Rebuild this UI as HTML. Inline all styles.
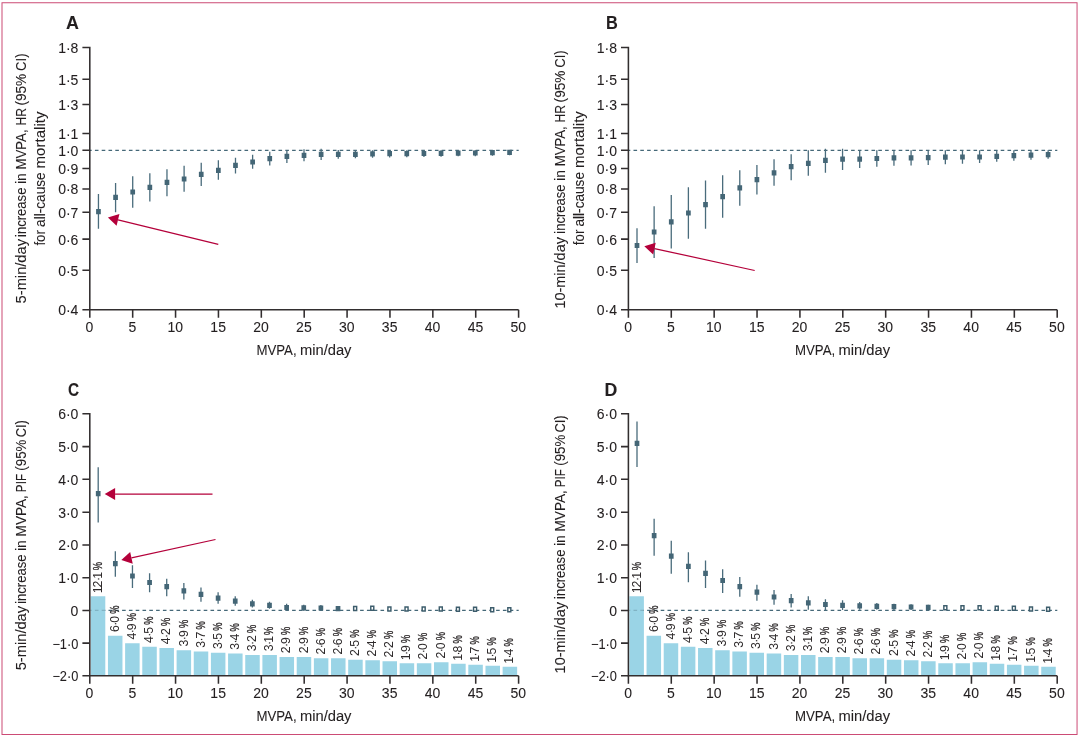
<!DOCTYPE html>
<html lang="en"><head><meta charset="utf-8"><title>Figure</title>
<style>
html,body{margin:0;padding:0;background:#fff;}
svg{display:block;}
text{font-family:"Liberation Sans",sans-serif;fill:#231f20;stroke:#231f20;stroke-width:0.08px;}
.bl text{fill:#2e2a2b;stroke:none;}
.bl text.p{stroke:#2e2a2b;stroke-width:0.3px;}
</style></head><body>
<svg width="1080" height="738" viewBox="0 0 1080 738" font-size="14.0px">
<rect x="2" y="2.75" width="1075.05" height="731.75" fill="none" stroke="#cc4b75" stroke-width="1"/>
<path d="M89.8 150.35H518.7" stroke="#456878" stroke-width="1.3" stroke-dasharray="3.6 3.2" stroke-dashoffset="1.7" fill="none"/>
<path d="M82.4 47.5H89.8V309.75H518.6" fill="none" stroke="#322e2f" stroke-width="1.55" stroke-linejoin="miter"/>
<path d="M82.4 79.3H89.8M82.4 104.4H89.8M82.4 133.5H89.8M82.4 150.3H89.8M82.4 168.4H89.8M82.4 188.9H89.8M82.4 212.3H89.8M82.4 239.1H89.8M82.4 270.3H89.8M82.4 309.75H89.8M89.8 309.75V317.65M132.68 309.75V317.65M175.56 309.75V317.65M218.44 309.75V317.65M261.32 309.75V317.65M304.2 309.75V317.65M347.08 309.75V317.65M389.96 309.75V317.65M432.84 309.75V317.65M475.72 309.75V317.65M518.6 309.75V317.65" fill="none" stroke="#322e2f" stroke-width="1.55"/>
<text x="78.4" y="53" text-anchor="end">1·8</text>
<text x="78.4" y="84.8" text-anchor="end">1·5</text>
<text x="78.4" y="109.9" text-anchor="end">1·3</text>
<text x="78.4" y="139" text-anchor="end">1·1</text>
<text x="78.4" y="155.8" text-anchor="end">1·0</text>
<text x="78.4" y="173.9" text-anchor="end">0·9</text>
<text x="78.4" y="194.4" text-anchor="end">0·8</text>
<text x="78.4" y="217.8" text-anchor="end">0·7</text>
<text x="78.4" y="244.6" text-anchor="end">0·6</text>
<text x="78.4" y="275.8" text-anchor="end">0·5</text>
<text x="78.4" y="315.25" text-anchor="end">0·4</text>
<text x="89.5" y="332.15" text-anchor="middle">0</text>
<text x="132.38" y="332.15" text-anchor="middle">5</text>
<text x="175.26" y="332.15" text-anchor="middle">10</text>
<text x="218.14" y="332.15" text-anchor="middle">15</text>
<text x="261.02" y="332.15" text-anchor="middle">20</text>
<text x="303.9" y="332.15" text-anchor="middle">25</text>
<text x="346.78" y="332.15" text-anchor="middle">30</text>
<text x="389.66" y="332.15" text-anchor="middle">35</text>
<text x="432.54" y="332.15" text-anchor="middle">40</text>
<text x="475.42" y="332.15" text-anchor="middle">45</text>
<text x="518.3" y="332.15" text-anchor="middle">50</text>
<text x="256.4" y="355.05" textLength="40.2" lengthAdjust="spacingAndGlyphs">MVPA,</text>
<text x="299.9" y="355.05" textLength="51.6" lengthAdjust="spacingAndGlyphs">min/day</text>
<path d="M90.8 596.3h14.5V675.8h-14.5zM107.96 635.8h14.5V675.8h-14.5zM125.12 643.3h14.5V675.8h-14.5zM142.28 646.8h14.5V675.8h-14.5zM159.44 648h14.5V675.8h-14.5zM176.6 650.2h14.5V675.8h-14.5zM193.76 651.5h14.5V675.8h-14.5zM210.92 652.8h14.5V675.8h-14.5zM228.08 653.5h14.5V675.8h-14.5zM245.24 655h14.5V675.8h-14.5zM262.4 655h14.5V675.8h-14.5zM279.56 657h14.5V675.8h-14.5zM296.72 657h14.5V675.8h-14.5zM313.88 658.3h14.5V675.8h-14.5zM331.04 658.3h14.5V675.8h-14.5zM348.2 659.8h14.5V675.8h-14.5zM365.36 660.3h14.5V675.8h-14.5zM382.52 661.2h14.5V675.8h-14.5zM399.68 663.2h14.5V675.8h-14.5zM416.84 663.2h14.5V675.8h-14.5zM434 662.3h14.5V675.8h-14.5zM451.16 663.8h14.5V675.8h-14.5zM468.32 664.7h14.5V675.8h-14.5zM485.48 665.8h14.5V675.8h-14.5zM502.64 666.7h14.5V675.8h-14.5z" fill="#9ad4e6"/>
<path d="M89.8 610.4H105" stroke="#456878" stroke-opacity="0.3" stroke-width="1.3" stroke-dasharray="3.6 3.2" stroke-dashoffset="1.7" fill="none"/>
<path d="M105 610.4H518.7" stroke="#456878" stroke-width="1.3" stroke-dasharray="3.6 3.2" stroke-dashoffset="3.3" fill="none"/>
<path d="M82.4 413.7H89.8V675.8H518.6" fill="none" stroke="#322e2f" stroke-width="1.55" stroke-linejoin="miter"/>
<path d="M82.4 446.6H89.8M82.4 479.3H89.8M82.4 512.2H89.8M82.4 544.9H89.8M82.4 577.7H89.8M82.4 610.4H89.8M82.4 643.1H89.8M82.4 675.8H89.8M89.8 675.8V683.7M132.68 675.8V683.7M175.56 675.8V683.7M218.44 675.8V683.7M261.32 675.8V683.7M304.2 675.8V683.7M347.08 675.8V683.7M389.96 675.8V683.7M432.84 675.8V683.7M475.72 675.8V683.7M518.6 675.8V683.7" fill="none" stroke="#322e2f" stroke-width="1.55"/>
<text x="78.4" y="419.2" text-anchor="end">6·0</text>
<text x="78.4" y="452.1" text-anchor="end">5·0</text>
<text x="78.4" y="484.8" text-anchor="end">4·0</text>
<text x="78.4" y="517.7" text-anchor="end">3·0</text>
<text x="78.4" y="550.4" text-anchor="end">2·0</text>
<text x="78.4" y="583.2" text-anchor="end">1·0</text>
<text x="78.4" y="615.9" text-anchor="end">0</text>
<text x="78.4" y="648.6" text-anchor="end" textLength="26" lengthAdjust="spacingAndGlyphs">−1·0</text>
<text x="78.4" y="681.3" text-anchor="end" textLength="26" lengthAdjust="spacingAndGlyphs">−2·0</text>
<text x="89.5" y="698.2" text-anchor="middle">0</text>
<text x="132.38" y="698.2" text-anchor="middle">5</text>
<text x="175.26" y="698.2" text-anchor="middle">10</text>
<text x="218.14" y="698.2" text-anchor="middle">15</text>
<text x="261.02" y="698.2" text-anchor="middle">20</text>
<text x="303.9" y="698.2" text-anchor="middle">25</text>
<text x="346.78" y="698.2" text-anchor="middle">30</text>
<text x="389.66" y="698.2" text-anchor="middle">35</text>
<text x="432.54" y="698.2" text-anchor="middle">40</text>
<text x="475.42" y="698.2" text-anchor="middle">45</text>
<text x="518.3" y="698.2" text-anchor="middle">50</text>
<text x="256.4" y="721.1" textLength="40.2" lengthAdjust="spacingAndGlyphs">MVPA,</text>
<text x="299.9" y="721.1" textLength="51.6" lengthAdjust="spacingAndGlyphs">min/day</text>
<g class="bl" font-size="12.3px">
<g transform="translate(101.95 592.1) rotate(-90)"><text x="-1.25 4.7 11.05 13.35">12·1</text><text x="21.8" textLength="8.3" lengthAdjust="spacingAndGlyphs" class="p">%</text></g>
<g transform="translate(119.08 631.6) rotate(-90)"><text x="-0.5 5.85 8.9">6·0</text><text x="17.9" textLength="8.3" lengthAdjust="spacingAndGlyphs" class="p">%</text></g>
<g transform="translate(136.21 639.1) rotate(-90)"><text x="-0.5 5.85 8.9">4·9</text><text x="17.9" textLength="8.3" lengthAdjust="spacingAndGlyphs" class="p">%</text></g>
<g transform="translate(153.34 642.6) rotate(-90)"><text x="-0.5 5.85 8.9">4·5</text><text x="17.9" textLength="8.3" lengthAdjust="spacingAndGlyphs" class="p">%</text></g>
<g transform="translate(170.47 643.8) rotate(-90)"><text x="-0.5 5.85 8.9">4·2</text><text x="17.9" textLength="8.3" lengthAdjust="spacingAndGlyphs" class="p">%</text></g>
<g transform="translate(187.6 646) rotate(-90)"><text x="-0.5 5.85 8.9">3·9</text><text x="17.9" textLength="8.3" lengthAdjust="spacingAndGlyphs" class="p">%</text></g>
<g transform="translate(204.73 647.3) rotate(-90)"><text x="-0.5 5.85 8.9">3·7</text><text x="17.9" textLength="8.3" lengthAdjust="spacingAndGlyphs" class="p">%</text></g>
<g transform="translate(221.86 648.6) rotate(-90)"><text x="-0.5 5.85 8.9">3·5</text><text x="17.9" textLength="8.3" lengthAdjust="spacingAndGlyphs" class="p">%</text></g>
<g transform="translate(238.99 649.3) rotate(-90)"><text x="-0.5 5.85 8.9">3·4</text><text x="17.9" textLength="8.3" lengthAdjust="spacingAndGlyphs" class="p">%</text></g>
<g transform="translate(256.12 650.8) rotate(-90)"><text x="-0.5 5.85 8.9">3·2</text><text x="17.9" textLength="8.3" lengthAdjust="spacingAndGlyphs" class="p">%</text></g>
<g transform="translate(273.25 650.8) rotate(-90)"><text x="-0.5 5.85 8.15">3·1</text><text x="15.7" textLength="8.3" lengthAdjust="spacingAndGlyphs" class="p">%</text></g>
<g transform="translate(290.38 652.8) rotate(-90)"><text x="-0.5 5.85 8.9">2·9</text><text x="17.9" textLength="8.3" lengthAdjust="spacingAndGlyphs" class="p">%</text></g>
<g transform="translate(307.51 652.8) rotate(-90)"><text x="-0.5 5.85 8.9">2·9</text><text x="17.9" textLength="8.3" lengthAdjust="spacingAndGlyphs" class="p">%</text></g>
<g transform="translate(324.64 654.1) rotate(-90)"><text x="-0.5 5.85 8.9">2·6</text><text x="17.9" textLength="8.3" lengthAdjust="spacingAndGlyphs" class="p">%</text></g>
<g transform="translate(341.77 654.1) rotate(-90)"><text x="-0.5 5.85 8.9">2·6</text><text x="17.9" textLength="8.3" lengthAdjust="spacingAndGlyphs" class="p">%</text></g>
<g transform="translate(358.9 655.6) rotate(-90)"><text x="-0.5 5.85 8.9">2·5</text><text x="17.9" textLength="8.3" lengthAdjust="spacingAndGlyphs" class="p">%</text></g>
<g transform="translate(376.03 656.1) rotate(-90)"><text x="-0.5 5.85 8.9">2·4</text><text x="17.9" textLength="8.3" lengthAdjust="spacingAndGlyphs" class="p">%</text></g>
<g transform="translate(393.16 657) rotate(-90)"><text x="-0.5 5.85 8.9">2·2</text><text x="17.9" textLength="8.3" lengthAdjust="spacingAndGlyphs" class="p">%</text></g>
<g transform="translate(410.29 659) rotate(-90)"><text x="-1.25 4.05 7.1">1·9</text><text x="16.1" textLength="8.3" lengthAdjust="spacingAndGlyphs" class="p">%</text></g>
<g transform="translate(427.42 659) rotate(-90)"><text x="-0.5 5.85 8.9">2·0</text><text x="17.9" textLength="8.3" lengthAdjust="spacingAndGlyphs" class="p">%</text></g>
<g transform="translate(444.55 658.1) rotate(-90)"><text x="-0.5 5.85 8.9">2·0</text><text x="17.9" textLength="8.3" lengthAdjust="spacingAndGlyphs" class="p">%</text></g>
<g transform="translate(461.68 659.6) rotate(-90)"><text x="-1.25 4.05 7.1">1·8</text><text x="16.1" textLength="8.3" lengthAdjust="spacingAndGlyphs" class="p">%</text></g>
<g transform="translate(478.81 660.5) rotate(-90)"><text x="-1.25 4.05 7.1">1·7</text><text x="16.1" textLength="8.3" lengthAdjust="spacingAndGlyphs" class="p">%</text></g>
<g transform="translate(495.94 661.6) rotate(-90)"><text x="-1.25 4.05 7.1">1·5</text><text x="16.1" textLength="8.3" lengthAdjust="spacingAndGlyphs" class="p">%</text></g>
<g transform="translate(513.07 662.5) rotate(-90)"><text x="-1.25 4.05 7.1">1·4</text><text x="16.1" textLength="8.3" lengthAdjust="spacingAndGlyphs" class="p">%</text></g>
</g>
<path d="M628.4 150.35H1057.3" stroke="#456878" stroke-width="1.3" stroke-dasharray="3.6 3.2" stroke-dashoffset="1.7" fill="none"/>
<path d="M621 47.5H628.4V309.75H1057.2" fill="none" stroke="#322e2f" stroke-width="1.55" stroke-linejoin="miter"/>
<path d="M621 79.3H628.4M621 104.4H628.4M621 133.5H628.4M621 150.3H628.4M621 168.4H628.4M621 188.9H628.4M621 212.3H628.4M621 239.1H628.4M621 270.3H628.4M621 309.75H628.4M628.4 309.75V317.65M671.28 309.75V317.65M714.16 309.75V317.65M757.04 309.75V317.65M799.92 309.75V317.65M842.8 309.75V317.65M885.68 309.75V317.65M928.56 309.75V317.65M971.44 309.75V317.65M1014.32 309.75V317.65M1057.2 309.75V317.65" fill="none" stroke="#322e2f" stroke-width="1.55"/>
<text x="617" y="53" text-anchor="end">1·8</text>
<text x="617" y="84.8" text-anchor="end">1·5</text>
<text x="617" y="109.9" text-anchor="end">1·3</text>
<text x="617" y="139" text-anchor="end">1·1</text>
<text x="617" y="155.8" text-anchor="end">1·0</text>
<text x="617" y="173.9" text-anchor="end">0·9</text>
<text x="617" y="194.4" text-anchor="end">0·8</text>
<text x="617" y="217.8" text-anchor="end">0·7</text>
<text x="617" y="244.6" text-anchor="end">0·6</text>
<text x="617" y="275.8" text-anchor="end">0·5</text>
<text x="617" y="315.25" text-anchor="end">0·4</text>
<text x="628.1" y="332.15" text-anchor="middle">0</text>
<text x="670.98" y="332.15" text-anchor="middle">5</text>
<text x="713.86" y="332.15" text-anchor="middle">10</text>
<text x="756.74" y="332.15" text-anchor="middle">15</text>
<text x="799.62" y="332.15" text-anchor="middle">20</text>
<text x="842.5" y="332.15" text-anchor="middle">25</text>
<text x="885.38" y="332.15" text-anchor="middle">30</text>
<text x="928.26" y="332.15" text-anchor="middle">35</text>
<text x="971.14" y="332.15" text-anchor="middle">40</text>
<text x="1014.02" y="332.15" text-anchor="middle">45</text>
<text x="1056.9" y="332.15" text-anchor="middle">50</text>
<text x="795" y="355.05" textLength="40.2" lengthAdjust="spacingAndGlyphs">MVPA,</text>
<text x="838.5" y="355.05" textLength="51.6" lengthAdjust="spacingAndGlyphs">min/day</text>
<path d="M629.4 596.3h14.5V675.8h-14.5zM646.56 635.8h14.5V675.8h-14.5zM663.72 643.3h14.5V675.8h-14.5zM680.88 646.8h14.5V675.8h-14.5zM698.04 648h14.5V675.8h-14.5zM715.2 650.2h14.5V675.8h-14.5zM732.36 651.5h14.5V675.8h-14.5zM749.52 652.8h14.5V675.8h-14.5zM766.68 653.5h14.5V675.8h-14.5zM783.84 655h14.5V675.8h-14.5zM801 655h14.5V675.8h-14.5zM818.16 657h14.5V675.8h-14.5zM835.32 657h14.5V675.8h-14.5zM852.48 658.3h14.5V675.8h-14.5zM869.64 658.3h14.5V675.8h-14.5zM886.8 659.8h14.5V675.8h-14.5zM903.96 660.3h14.5V675.8h-14.5zM921.12 661.2h14.5V675.8h-14.5zM938.28 663.2h14.5V675.8h-14.5zM955.44 663.2h14.5V675.8h-14.5zM972.6 662.3h14.5V675.8h-14.5zM989.76 663.8h14.5V675.8h-14.5zM1006.92 664.7h14.5V675.8h-14.5zM1024.08 665.8h14.5V675.8h-14.5zM1041.24 666.7h14.5V675.8h-14.5z" fill="#9ad4e6"/>
<path d="M628.4 610.4H643.6" stroke="#456878" stroke-opacity="0.3" stroke-width="1.3" stroke-dasharray="3.6 3.2" stroke-dashoffset="1.7" fill="none"/>
<path d="M643.6 610.4H1057.3" stroke="#456878" stroke-width="1.3" stroke-dasharray="3.6 3.2" stroke-dashoffset="3.3" fill="none"/>
<path d="M621 413.7H628.4V675.8H1057.2" fill="none" stroke="#322e2f" stroke-width="1.55" stroke-linejoin="miter"/>
<path d="M621 446.6H628.4M621 479.3H628.4M621 512.2H628.4M621 544.9H628.4M621 577.7H628.4M621 610.4H628.4M621 643.1H628.4M621 675.8H628.4M628.4 675.8V683.7M671.28 675.8V683.7M714.16 675.8V683.7M757.04 675.8V683.7M799.92 675.8V683.7M842.8 675.8V683.7M885.68 675.8V683.7M928.56 675.8V683.7M971.44 675.8V683.7M1014.32 675.8V683.7M1057.2 675.8V683.7" fill="none" stroke="#322e2f" stroke-width="1.55"/>
<text x="617" y="419.2" text-anchor="end">6·0</text>
<text x="617" y="452.1" text-anchor="end">5·0</text>
<text x="617" y="484.8" text-anchor="end">4·0</text>
<text x="617" y="517.7" text-anchor="end">3·0</text>
<text x="617" y="550.4" text-anchor="end">2·0</text>
<text x="617" y="583.2" text-anchor="end">1·0</text>
<text x="617" y="615.9" text-anchor="end">0</text>
<text x="617" y="648.6" text-anchor="end" textLength="26" lengthAdjust="spacingAndGlyphs">−1·0</text>
<text x="617" y="681.3" text-anchor="end" textLength="26" lengthAdjust="spacingAndGlyphs">−2·0</text>
<text x="628.1" y="698.2" text-anchor="middle">0</text>
<text x="670.98" y="698.2" text-anchor="middle">5</text>
<text x="713.86" y="698.2" text-anchor="middle">10</text>
<text x="756.74" y="698.2" text-anchor="middle">15</text>
<text x="799.62" y="698.2" text-anchor="middle">20</text>
<text x="842.5" y="698.2" text-anchor="middle">25</text>
<text x="885.38" y="698.2" text-anchor="middle">30</text>
<text x="928.26" y="698.2" text-anchor="middle">35</text>
<text x="971.14" y="698.2" text-anchor="middle">40</text>
<text x="1014.02" y="698.2" text-anchor="middle">45</text>
<text x="1056.9" y="698.2" text-anchor="middle">50</text>
<text x="795" y="721.1" textLength="40.2" lengthAdjust="spacingAndGlyphs">MVPA,</text>
<text x="838.5" y="721.1" textLength="51.6" lengthAdjust="spacingAndGlyphs">min/day</text>
<g class="bl" font-size="12.3px">
<g transform="translate(640.55 592.1) rotate(-90)"><text x="-1.25 4.7 11.05 13.35">12·1</text><text x="21.8" textLength="8.3" lengthAdjust="spacingAndGlyphs" class="p">%</text></g>
<g transform="translate(657.68 631.6) rotate(-90)"><text x="-0.5 5.85 8.9">6·0</text><text x="17.9" textLength="8.3" lengthAdjust="spacingAndGlyphs" class="p">%</text></g>
<g transform="translate(674.81 639.1) rotate(-90)"><text x="-0.5 5.85 8.9">4·9</text><text x="17.9" textLength="8.3" lengthAdjust="spacingAndGlyphs" class="p">%</text></g>
<g transform="translate(691.94 642.6) rotate(-90)"><text x="-0.5 5.85 8.9">4·5</text><text x="17.9" textLength="8.3" lengthAdjust="spacingAndGlyphs" class="p">%</text></g>
<g transform="translate(709.07 643.8) rotate(-90)"><text x="-0.5 5.85 8.9">4·2</text><text x="17.9" textLength="8.3" lengthAdjust="spacingAndGlyphs" class="p">%</text></g>
<g transform="translate(726.2 646) rotate(-90)"><text x="-0.5 5.85 8.9">3·9</text><text x="17.9" textLength="8.3" lengthAdjust="spacingAndGlyphs" class="p">%</text></g>
<g transform="translate(743.33 647.3) rotate(-90)"><text x="-0.5 5.85 8.9">3·7</text><text x="17.9" textLength="8.3" lengthAdjust="spacingAndGlyphs" class="p">%</text></g>
<g transform="translate(760.46 648.6) rotate(-90)"><text x="-0.5 5.85 8.9">3·5</text><text x="17.9" textLength="8.3" lengthAdjust="spacingAndGlyphs" class="p">%</text></g>
<g transform="translate(777.59 649.3) rotate(-90)"><text x="-0.5 5.85 8.9">3·4</text><text x="17.9" textLength="8.3" lengthAdjust="spacingAndGlyphs" class="p">%</text></g>
<g transform="translate(794.72 650.8) rotate(-90)"><text x="-0.5 5.85 8.9">3·2</text><text x="17.9" textLength="8.3" lengthAdjust="spacingAndGlyphs" class="p">%</text></g>
<g transform="translate(811.85 650.8) rotate(-90)"><text x="-0.5 5.85 8.15">3·1</text><text x="15.7" textLength="8.3" lengthAdjust="spacingAndGlyphs" class="p">%</text></g>
<g transform="translate(828.98 652.8) rotate(-90)"><text x="-0.5 5.85 8.9">2·9</text><text x="17.9" textLength="8.3" lengthAdjust="spacingAndGlyphs" class="p">%</text></g>
<g transform="translate(846.11 652.8) rotate(-90)"><text x="-0.5 5.85 8.9">2·9</text><text x="17.9" textLength="8.3" lengthAdjust="spacingAndGlyphs" class="p">%</text></g>
<g transform="translate(863.24 654.1) rotate(-90)"><text x="-0.5 5.85 8.9">2·6</text><text x="17.9" textLength="8.3" lengthAdjust="spacingAndGlyphs" class="p">%</text></g>
<g transform="translate(880.37 654.1) rotate(-90)"><text x="-0.5 5.85 8.9">2·6</text><text x="17.9" textLength="8.3" lengthAdjust="spacingAndGlyphs" class="p">%</text></g>
<g transform="translate(897.5 655.6) rotate(-90)"><text x="-0.5 5.85 8.9">2·5</text><text x="17.9" textLength="8.3" lengthAdjust="spacingAndGlyphs" class="p">%</text></g>
<g transform="translate(914.63 656.1) rotate(-90)"><text x="-0.5 5.85 8.9">2·4</text><text x="17.9" textLength="8.3" lengthAdjust="spacingAndGlyphs" class="p">%</text></g>
<g transform="translate(931.76 657) rotate(-90)"><text x="-0.5 5.85 8.9">2·2</text><text x="17.9" textLength="8.3" lengthAdjust="spacingAndGlyphs" class="p">%</text></g>
<g transform="translate(948.89 659) rotate(-90)"><text x="-1.25 4.05 7.1">1·9</text><text x="16.1" textLength="8.3" lengthAdjust="spacingAndGlyphs" class="p">%</text></g>
<g transform="translate(966.02 659) rotate(-90)"><text x="-0.5 5.85 8.9">2·0</text><text x="17.9" textLength="8.3" lengthAdjust="spacingAndGlyphs" class="p">%</text></g>
<g transform="translate(983.15 658.1) rotate(-90)"><text x="-0.5 5.85 8.9">2·0</text><text x="17.9" textLength="8.3" lengthAdjust="spacingAndGlyphs" class="p">%</text></g>
<g transform="translate(1000.28 659.6) rotate(-90)"><text x="-1.25 4.05 7.1">1·8</text><text x="16.1" textLength="8.3" lengthAdjust="spacingAndGlyphs" class="p">%</text></g>
<g transform="translate(1017.41 660.5) rotate(-90)"><text x="-1.25 4.05 7.1">1·7</text><text x="16.1" textLength="8.3" lengthAdjust="spacingAndGlyphs" class="p">%</text></g>
<g transform="translate(1034.54 661.6) rotate(-90)"><text x="-1.25 4.05 7.1">1·5</text><text x="16.1" textLength="8.3" lengthAdjust="spacingAndGlyphs" class="p">%</text></g>
<g transform="translate(1051.67 662.5) rotate(-90)"><text x="-1.25 4.05 7.1">1·4</text><text x="16.1" textLength="8.3" lengthAdjust="spacingAndGlyphs" class="p">%</text></g>
</g>
<path d="M98.45 194.1V228.7M115.58 183V212.3M132.71 176.2V207.8M149.84 173.2V201.5M166.97 169.2V196.2M184.1 165.8V191.8M201.23 162.8V186M218.36 160.2V179.8M235.49 157.8V173.5M252.62 154.8V168.8M269.75 151.7V165.5M286.88 150V163M304.01 149.2V161.3M321.14 148.8V160M338.27 150V158.7M355.4 150.3V158.3M372.53 150.3V157.7M389.66 150.3V157.5M406.79 150.3V157.3M423.92 150.3V157M441.05 150.3V156.7M458.18 150.3V156.3M475.31 150.3V156.2M492.44 150.3V155.8M509.57 150.3V155.2" stroke="#4a6c7c" stroke-width="1.3" fill="none"/>
<path d="M96.1 209h4.7v5.2h-4.7zM113.23 194.8h4.7v5.2h-4.7zM130.36 189.4h4.7v5.2h-4.7zM147.49 184.7h4.7v5.2h-4.7zM164.62 179.7h4.7v5.2h-4.7zM181.75 176.4h4.7v5.2h-4.7zM198.88 171.7h4.7v5.2h-4.7zM216.01 167.7h4.7v5.2h-4.7zM233.14 162.7h4.7v5.2h-4.7zM250.27 159.4h4.7v5.2h-4.7zM267.4 156.1h4.7v5.2h-4.7zM284.53 153.7h4.7v5.2h-4.7zM301.66 152.7h4.7v5.2h-4.7zM318.79 151.7h4.7v5.2h-4.7zM335.92 151.7h4.7v5.2h-4.7zM353.05 151.7h4.7v5.2h-4.7zM370.18 151.2h4.7v5.2h-4.7zM387.31 151.1h4.7v5.2h-4.7zM404.44 151.1h4.7v5.2h-4.7zM421.57 150.9h4.7v5.2h-4.7zM438.7 150.7h4.7v5.2h-4.7zM455.83 150.6h4.7v5.2h-4.7zM472.96 150.4h4.7v5.2h-4.7zM490.09 150.1h4.7v5.2h-4.7zM507.22 149.7h4.7v5.2h-4.7z" fill="#446676"/>
<path d="M637 228.3V263M654.13 206.2V258M671.26 195V248.5M688.39 187.3V238.7M705.52 180.5V228.7M722.65 175.2V217.7M739.78 170.2V205.8M756.91 165V194.5M774.04 159.2V185.8M791.17 154.3V180.2M808.3 150.3V175.8M825.43 148.8V172.7M842.56 148.8V170M859.69 150.3V168M876.82 150.3V166.7M893.95 150.3V165.7M911.08 150.3V165.4M928.21 150.3V165M945.34 150.3V164.3M962.47 150.3V163.7M979.6 150.3V163M996.73 150.3V161.7M1013.86 150.3V160.8M1030.99 150.3V159.7M1048.12 150.3V158.8" stroke="#4a6c7c" stroke-width="1.3" fill="none"/>
<path d="M634.65 242.9h4.7v5.2h-4.7zM651.78 229.4h4.7v5.2h-4.7zM668.91 219.2h4.7v5.2h-4.7zM686.04 210.4h4.7v5.2h-4.7zM703.17 202.1h4.7v5.2h-4.7zM720.3 194.1h4.7v5.2h-4.7zM737.43 185.2h4.7v5.2h-4.7zM754.56 177.1h4.7v5.2h-4.7zM771.69 170.2h4.7v5.2h-4.7zM788.82 164.1h4.7v5.2h-4.7zM805.95 160.7h4.7v5.2h-4.7zM823.08 157.7h4.7v5.2h-4.7zM840.21 156.6h4.7v5.2h-4.7zM857.34 156.6h4.7v5.2h-4.7zM874.47 155.9h4.7v5.2h-4.7zM891.6 155.2h4.7v5.2h-4.7zM908.73 155.2h4.7v5.2h-4.7zM925.86 155.1h4.7v5.2h-4.7zM942.99 154.6h4.7v5.2h-4.7zM960.12 154.4h4.7v5.2h-4.7zM977.25 154.4h4.7v5.2h-4.7zM994.38 153.7h4.7v5.2h-4.7zM1011.51 153.1h4.7v5.2h-4.7zM1028.64 152.6h4.7v5.2h-4.7zM1045.77 152.1h4.7v5.2h-4.7z" fill="#446676"/>
<path d="M98.2 467.3V522.5M115.33 551.3V576.7M132.46 565.3V588M149.59 573.3V592.2M166.72 578.8V596.2M183.85 583V599.5M200.98 587.6V601.8M218.11 592.3V603.7M235.24 596.2V605.8M252.37 599.8V607.5M269.5 601.7V608.7M286.63 603.8V610.8M303.76 604.7V610.8M320.89 605V611M338.02 606V611" stroke="#4a6c7c" stroke-width="1.3" fill="none"/>
<path d="M95.85 491.1h4.7v5.2h-4.7zM112.98 561.1h4.7v5.2h-4.7zM130.11 573.4h4.7v5.2h-4.7zM147.24 579.9h4.7v5.2h-4.7zM164.37 584.1h4.7v5.2h-4.7zM181.5 588.3h4.7v5.2h-4.7zM198.63 591.8h4.7v5.2h-4.7zM215.76 595.5h4.7v5.2h-4.7zM232.89 598.6h4.7v5.2h-4.7zM250.02 601.2h4.7v5.2h-4.7zM267.15 602.7h4.7v5.2h-4.7zM284.28 604.9h4.7v5.2h-4.7zM301.41 605.2h4.7v5.2h-4.7zM318.54 605.4h4.7v5.2h-4.7zM335.67 606.1h4.7v5.2h-4.7z" fill="#446676"/>
<path d="M353.65 606.5h3v4h-3zM370.78 606.3h3v4h-3zM387.91 607h3v4h-3zM405.04 606.9h3v4h-3zM422.17 607h3v4h-3zM439.3 607h3v4h-3zM456.43 607.2h3v4h-3zM473.56 607.2h3v4h-3zM490.69 607.8h3v4h-3zM507.82 607.8h3v4h-3z" fill="#fff" stroke="#3d5d6c" stroke-width="1.45"/>
<path d="M637 421.4V467M654.13 518.8V555.8M671.26 540.8V573.7M688.39 552.2V582.2M705.52 560.5V588M722.65 569.2V593M739.78 577V596.7M756.91 584.7V600.7M774.04 590V604.7M791.17 594V607.6M808.3 596.3V609.7M825.43 599.2V610M842.56 600.3V610M859.69 602V609.7M876.82 603V609.7M893.95 603.7V610M911.08 604.3V610M928.21 604.7V610.3" stroke="#4a6c7c" stroke-width="1.3" fill="none"/>
<path d="M634.65 440.7h4.7v5.2h-4.7zM651.78 533h4.7v5.2h-4.7zM668.91 553.6h4.7v5.2h-4.7zM686.04 563.7h4.7v5.2h-4.7zM703.17 570.7h4.7v5.2h-4.7zM720.3 577.9h4.7v5.2h-4.7zM737.43 584.1h4.7v5.2h-4.7zM754.56 589.6h4.7v5.2h-4.7zM771.69 594.4h4.7v5.2h-4.7zM788.82 598h4.7v5.2h-4.7zM805.95 600.2h4.7v5.2h-4.7zM823.08 601.9h4.7v5.2h-4.7zM840.21 602.7h4.7v5.2h-4.7zM857.34 603.2h4.7v5.2h-4.7zM874.47 603.7h4.7v5.2h-4.7zM891.6 604.1h4.7v5.2h-4.7zM908.73 604.4h4.7v5.2h-4.7zM925.86 604.7h4.7v5.2h-4.7z" fill="#446676"/>
<path d="M943.84 605.8h3v4h-3zM960.97 605.8h3v4h-3zM978.1 605.8h3v4h-3zM995.23 606.3h3v4h-3zM1012.36 606.3h3v4h-3zM1029.49 606.9h3v4h-3zM1046.62 607.2h3v4h-3z" fill="#fff" stroke="#3d5d6c" stroke-width="1.45"/>
<path d="M218.3 244.3L118 219.86" stroke="#b4003a" stroke-width="1.25" fill="none"/>
<path d="M107.9 217.4L116.58 225.69L119.42 214.03z" fill="#b4003a"/>
<path d="M754.7 270.5L654.46 248.53" stroke="#b4003a" stroke-width="1.25" fill="none"/>
<path d="M644.3 246.3L653.17 254.39L655.74 242.67z" fill="#b4003a"/>
<path d="M212.5 494L115.1 494" stroke="#b4003a" stroke-width="1.25" fill="none"/>
<path d="M104.7 494L115.1 500L115.1 488z" fill="#b4003a"/>
<path d="M215.5 539.5L131.46 557.79" stroke="#b4003a" stroke-width="1.25" fill="none"/>
<path d="M121.3 560L132.74 563.65L130.19 551.93z" fill="#b4003a"/>
<g transform="translate(26.4 302.8) rotate(-90)">
<text x="-0.6" textLength="64.4" lengthAdjust="spacingAndGlyphs">5-min/day</text>
<text x="65.9" textLength="49.3" lengthAdjust="spacingAndGlyphs">increase</text>
<text x="118.7" textLength="10.7" lengthAdjust="spacingAndGlyphs">in</text>
<text x="133.3" textLength="40.1" lengthAdjust="spacingAndGlyphs">MVPA,</text>
<text x="177.2" textLength="17.5" lengthAdjust="spacingAndGlyphs">HR</text>
<text x="197.2" textLength="31.8" lengthAdjust="spacingAndGlyphs">(95%</text>
<text x="231.9" textLength="17.4" lengthAdjust="spacingAndGlyphs">CI)</text>
</g>
<g transform="translate(45 245) rotate(-90)">
<text x="-0.6" textLength="15.5" lengthAdjust="spacingAndGlyphs">for</text>
<text x="18.1" textLength="54.5" lengthAdjust="spacingAndGlyphs">all-cause</text>
<text x="76.5" textLength="57" lengthAdjust="spacingAndGlyphs">mortality</text>
</g>
<g transform="translate(565 308) rotate(-90)">
<text x="-0.6" textLength="71.5" lengthAdjust="spacingAndGlyphs">10-min/day</text>
<text x="74.3" textLength="49.3" lengthAdjust="spacingAndGlyphs">increase</text>
<text x="127.1" textLength="10.7" lengthAdjust="spacingAndGlyphs">in</text>
<text x="141.7" textLength="40.1" lengthAdjust="spacingAndGlyphs">MVPA,</text>
<text x="185.6" textLength="17.5" lengthAdjust="spacingAndGlyphs">HR</text>
<text x="205.6" textLength="31.8" lengthAdjust="spacingAndGlyphs">(95%</text>
<text x="240.3" textLength="17.4" lengthAdjust="spacingAndGlyphs">CI)</text>
</g>
<g transform="translate(583.7 244.6) rotate(-90)">
<text x="-0.6" textLength="15.5" lengthAdjust="spacingAndGlyphs">for</text>
<text x="18.1" textLength="54.5" lengthAdjust="spacingAndGlyphs">all-cause</text>
<text x="76.5" textLength="57" lengthAdjust="spacingAndGlyphs">mortality</text>
</g>
<g transform="translate(26.4 669.7) rotate(-90)">
<text x="-0.6" textLength="64.4" lengthAdjust="spacingAndGlyphs">5-min/day</text>
<text x="65.9" textLength="49.3" lengthAdjust="spacingAndGlyphs">increase</text>
<text x="118.7" textLength="10.7" lengthAdjust="spacingAndGlyphs">in</text>
<text x="133.3" textLength="41.3" lengthAdjust="spacingAndGlyphs">MVPA,</text>
<text x="177.5" textLength="18.3" lengthAdjust="spacingAndGlyphs">PIF</text>
<text x="199" textLength="31.1" lengthAdjust="spacingAndGlyphs">(95%</text>
<text x="232.4" textLength="17" lengthAdjust="spacingAndGlyphs">CI)</text>
</g>
<g transform="translate(565 672.8) rotate(-90)">
<text x="-0.6" textLength="71.5" lengthAdjust="spacingAndGlyphs">10-min/day</text>
<text x="73.9" textLength="49.3" lengthAdjust="spacingAndGlyphs">increase</text>
<text x="126.7" textLength="10.7" lengthAdjust="spacingAndGlyphs">in</text>
<text x="141.3" textLength="41.3" lengthAdjust="spacingAndGlyphs">MVPA,</text>
<text x="185.5" textLength="18.3" lengthAdjust="spacingAndGlyphs">PIF</text>
<text x="207" textLength="31.1" lengthAdjust="spacingAndGlyphs">(95%</text>
<text x="240.4" textLength="17" lengthAdjust="spacingAndGlyphs">CI)</text>
</g>
<g font-weight="bold" font-size="18px">
<text x="66.0" y="29.1" textLength="12.9" lengthAdjust="spacingAndGlyphs">A</text>
<text x="606.0" y="29.1" textLength="11.8" lengthAdjust="spacingAndGlyphs">B</text>
<text x="68.1" y="395.6" textLength="11.1" lengthAdjust="spacingAndGlyphs">C</text>
<text x="604.5" y="395.6" textLength="12.8" lengthAdjust="spacingAndGlyphs">D</text>
</g>
</svg>
</body></html>
